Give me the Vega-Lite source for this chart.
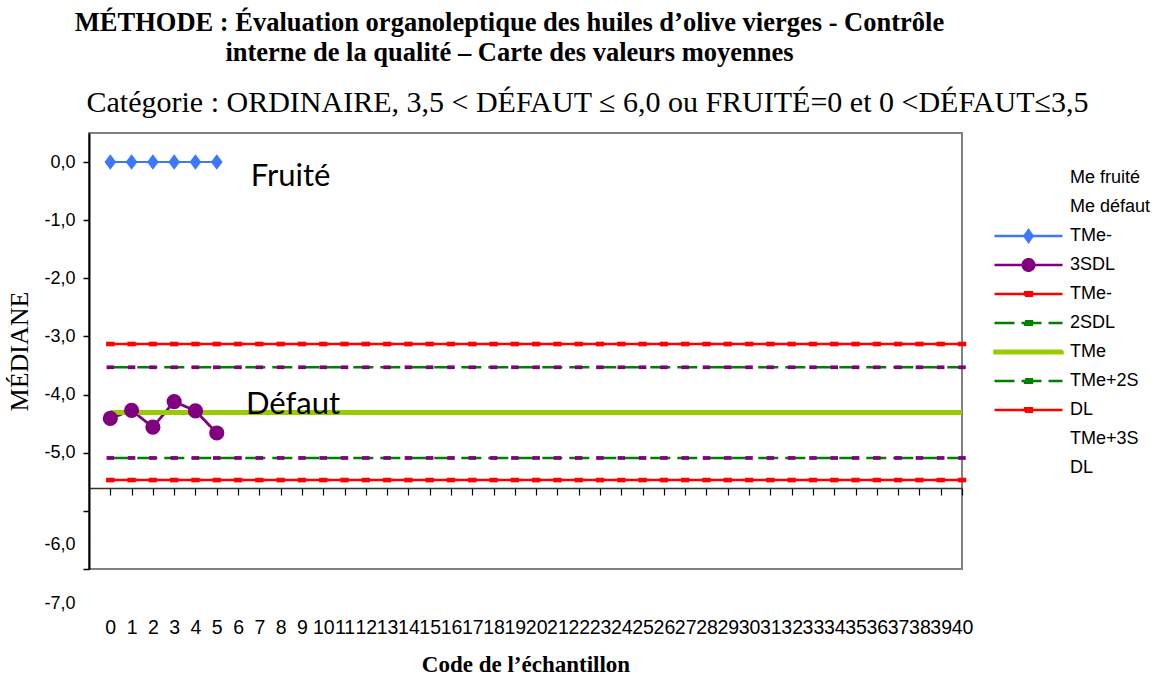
{
  "$schema": "https://vega.github.io/schema/vega-lite/v6.json",
  "background": "white",
  "padding": {"left": 5, "top": 9, "right": 5, "bottom": 5},
  "title": {
    "text": ["MÉTHODE : Évaluation organoleptique des huiles d’olive vierges - Contrôle", "interne de la qualité – Carte des valeurs moyennes"],
    "font": "Liberation Serif", "fontSize": 26.5, "fontWeight": "bold", "color": "black",
    "lineHeight": 30, "anchor": "middle", "offset": 21, "dx": -69
  },
  "datasets": {
    "series": [
      {"code":0,"serie":"Me fruité","valeur":0},{"code":1,"serie":"Me fruité","valeur":0},{"code":2,"serie":"Me fruité","valeur":0},{"code":3,"serie":"Me fruité","valeur":0},{"code":4,"serie":"Me fruité","valeur":0},{"code":5,"serie":"Me fruité","valeur":0},
      {"code":0,"serie":"Me défaut","valeur":-4.41},{"code":1,"serie":"Me défaut","valeur":-4.27},{"code":2,"serie":"Me défaut","valeur":-4.56},{"code":3,"serie":"Me défaut","valeur":-4.12},{"code":4,"serie":"Me défaut","valeur":-4.28},{"code":5,"serie":"Me défaut","valeur":-4.66},
      {"code":0,"serie":"TMe-3SDL","valeur":-3.13},{"code":1,"serie":"TMe-3SDL","valeur":-3.13},{"code":2,"serie":"TMe-3SDL","valeur":-3.13},{"code":3,"serie":"TMe-3SDL","valeur":-3.13},{"code":4,"serie":"TMe-3SDL","valeur":-3.13},{"code":5,"serie":"TMe-3SDL","valeur":-3.13},{"code":6,"serie":"TMe-3SDL","valeur":-3.13},{"code":7,"serie":"TMe-3SDL","valeur":-3.13},{"code":8,"serie":"TMe-3SDL","valeur":-3.13},{"code":9,"serie":"TMe-3SDL","valeur":-3.13},{"code":10,"serie":"TMe-3SDL","valeur":-3.13},{"code":11,"serie":"TMe-3SDL","valeur":-3.13},{"code":12,"serie":"TMe-3SDL","valeur":-3.13},{"code":13,"serie":"TMe-3SDL","valeur":-3.13},{"code":14,"serie":"TMe-3SDL","valeur":-3.13},{"code":15,"serie":"TMe-3SDL","valeur":-3.13},{"code":16,"serie":"TMe-3SDL","valeur":-3.13},{"code":17,"serie":"TMe-3SDL","valeur":-3.13},{"code":18,"serie":"TMe-3SDL","valeur":-3.13},{"code":19,"serie":"TMe-3SDL","valeur":-3.13},{"code":20,"serie":"TMe-3SDL","valeur":-3.13},{"code":21,"serie":"TMe-3SDL","valeur":-3.13},{"code":22,"serie":"TMe-3SDL","valeur":-3.13},{"code":23,"serie":"TMe-3SDL","valeur":-3.13},{"code":24,"serie":"TMe-3SDL","valeur":-3.13},{"code":25,"serie":"TMe-3SDL","valeur":-3.13},{"code":26,"serie":"TMe-3SDL","valeur":-3.13},{"code":27,"serie":"TMe-3SDL","valeur":-3.13},{"code":28,"serie":"TMe-3SDL","valeur":-3.13},{"code":29,"serie":"TMe-3SDL","valeur":-3.13},{"code":30,"serie":"TMe-3SDL","valeur":-3.13},{"code":31,"serie":"TMe-3SDL","valeur":-3.13},{"code":32,"serie":"TMe-3SDL","valeur":-3.13},{"code":33,"serie":"TMe-3SDL","valeur":-3.13},{"code":34,"serie":"TMe-3SDL","valeur":-3.13},{"code":35,"serie":"TMe-3SDL","valeur":-3.13},{"code":36,"serie":"TMe-3SDL","valeur":-3.13},{"code":37,"serie":"TMe-3SDL","valeur":-3.13},{"code":38,"serie":"TMe-3SDL","valeur":-3.13},{"code":39,"serie":"TMe-3SDL","valeur":-3.13},{"code":40,"serie":"TMe-3SDL","valeur":-3.13},
      {"code":0,"serie":"TMe-2SDL","valeur":-3.53},{"code":1,"serie":"TMe-2SDL","valeur":-3.53},{"code":2,"serie":"TMe-2SDL","valeur":-3.53},{"code":3,"serie":"TMe-2SDL","valeur":-3.53},{"code":4,"serie":"TMe-2SDL","valeur":-3.53},{"code":5,"serie":"TMe-2SDL","valeur":-3.53},{"code":6,"serie":"TMe-2SDL","valeur":-3.53},{"code":7,"serie":"TMe-2SDL","valeur":-3.53},{"code":8,"serie":"TMe-2SDL","valeur":-3.53},{"code":9,"serie":"TMe-2SDL","valeur":-3.53},{"code":10,"serie":"TMe-2SDL","valeur":-3.53},{"code":11,"serie":"TMe-2SDL","valeur":-3.53},{"code":12,"serie":"TMe-2SDL","valeur":-3.53},{"code":13,"serie":"TMe-2SDL","valeur":-3.53},{"code":14,"serie":"TMe-2SDL","valeur":-3.53},{"code":15,"serie":"TMe-2SDL","valeur":-3.53},{"code":16,"serie":"TMe-2SDL","valeur":-3.53},{"code":17,"serie":"TMe-2SDL","valeur":-3.53},{"code":18,"serie":"TMe-2SDL","valeur":-3.53},{"code":19,"serie":"TMe-2SDL","valeur":-3.53},{"code":20,"serie":"TMe-2SDL","valeur":-3.53},{"code":21,"serie":"TMe-2SDL","valeur":-3.53},{"code":22,"serie":"TMe-2SDL","valeur":-3.53},{"code":23,"serie":"TMe-2SDL","valeur":-3.53},{"code":24,"serie":"TMe-2SDL","valeur":-3.53},{"code":25,"serie":"TMe-2SDL","valeur":-3.53},{"code":26,"serie":"TMe-2SDL","valeur":-3.53},{"code":27,"serie":"TMe-2SDL","valeur":-3.53},{"code":28,"serie":"TMe-2SDL","valeur":-3.53},{"code":29,"serie":"TMe-2SDL","valeur":-3.53},{"code":30,"serie":"TMe-2SDL","valeur":-3.53},{"code":31,"serie":"TMe-2SDL","valeur":-3.53},{"code":32,"serie":"TMe-2SDL","valeur":-3.53},{"code":33,"serie":"TMe-2SDL","valeur":-3.53},{"code":34,"serie":"TMe-2SDL","valeur":-3.53},{"code":35,"serie":"TMe-2SDL","valeur":-3.53},{"code":36,"serie":"TMe-2SDL","valeur":-3.53},{"code":37,"serie":"TMe-2SDL","valeur":-3.53},{"code":38,"serie":"TMe-2SDL","valeur":-3.53},{"code":39,"serie":"TMe-2SDL","valeur":-3.53},{"code":40,"serie":"TMe-2SDL","valeur":-3.53},
      {"code":0,"serie":"TMe","valeur":-4.31},{"code":1,"serie":"TMe","valeur":-4.31},{"code":2,"serie":"TMe","valeur":-4.31},{"code":3,"serie":"TMe","valeur":-4.31},{"code":4,"serie":"TMe","valeur":-4.31},{"code":5,"serie":"TMe","valeur":-4.31},{"code":6,"serie":"TMe","valeur":-4.31},{"code":7,"serie":"TMe","valeur":-4.31},{"code":8,"serie":"TMe","valeur":-4.31},{"code":9,"serie":"TMe","valeur":-4.31},{"code":10,"serie":"TMe","valeur":-4.31},{"code":11,"serie":"TMe","valeur":-4.31},{"code":12,"serie":"TMe","valeur":-4.31},{"code":13,"serie":"TMe","valeur":-4.31},{"code":14,"serie":"TMe","valeur":-4.31},{"code":15,"serie":"TMe","valeur":-4.31},{"code":16,"serie":"TMe","valeur":-4.31},{"code":17,"serie":"TMe","valeur":-4.31},{"code":18,"serie":"TMe","valeur":-4.31},{"code":19,"serie":"TMe","valeur":-4.31},{"code":20,"serie":"TMe","valeur":-4.31},{"code":21,"serie":"TMe","valeur":-4.31},{"code":22,"serie":"TMe","valeur":-4.31},{"code":23,"serie":"TMe","valeur":-4.31},{"code":24,"serie":"TMe","valeur":-4.31},{"code":25,"serie":"TMe","valeur":-4.31},{"code":26,"serie":"TMe","valeur":-4.31},{"code":27,"serie":"TMe","valeur":-4.31},{"code":28,"serie":"TMe","valeur":-4.31},{"code":29,"serie":"TMe","valeur":-4.31},{"code":30,"serie":"TMe","valeur":-4.31},{"code":31,"serie":"TMe","valeur":-4.31},{"code":32,"serie":"TMe","valeur":-4.31},{"code":33,"serie":"TMe","valeur":-4.31},{"code":34,"serie":"TMe","valeur":-4.31},{"code":35,"serie":"TMe","valeur":-4.31},{"code":36,"serie":"TMe","valeur":-4.31},{"code":37,"serie":"TMe","valeur":-4.31},{"code":38,"serie":"TMe","valeur":-4.31},{"code":39,"serie":"TMe","valeur":-4.31},{"code":40,"serie":"TMe","valeur":-4.31},
      {"code":0,"serie":"TMe+2SDL","valeur":-5.09},{"code":1,"serie":"TMe+2SDL","valeur":-5.09},{"code":2,"serie":"TMe+2SDL","valeur":-5.09},{"code":3,"serie":"TMe+2SDL","valeur":-5.09},{"code":4,"serie":"TMe+2SDL","valeur":-5.09},{"code":5,"serie":"TMe+2SDL","valeur":-5.09},{"code":6,"serie":"TMe+2SDL","valeur":-5.09},{"code":7,"serie":"TMe+2SDL","valeur":-5.09},{"code":8,"serie":"TMe+2SDL","valeur":-5.09},{"code":9,"serie":"TMe+2SDL","valeur":-5.09},{"code":10,"serie":"TMe+2SDL","valeur":-5.09},{"code":11,"serie":"TMe+2SDL","valeur":-5.09},{"code":12,"serie":"TMe+2SDL","valeur":-5.09},{"code":13,"serie":"TMe+2SDL","valeur":-5.09},{"code":14,"serie":"TMe+2SDL","valeur":-5.09},{"code":15,"serie":"TMe+2SDL","valeur":-5.09},{"code":16,"serie":"TMe+2SDL","valeur":-5.09},{"code":17,"serie":"TMe+2SDL","valeur":-5.09},{"code":18,"serie":"TMe+2SDL","valeur":-5.09},{"code":19,"serie":"TMe+2SDL","valeur":-5.09},{"code":20,"serie":"TMe+2SDL","valeur":-5.09},{"code":21,"serie":"TMe+2SDL","valeur":-5.09},{"code":22,"serie":"TMe+2SDL","valeur":-5.09},{"code":23,"serie":"TMe+2SDL","valeur":-5.09},{"code":24,"serie":"TMe+2SDL","valeur":-5.09},{"code":25,"serie":"TMe+2SDL","valeur":-5.09},{"code":26,"serie":"TMe+2SDL","valeur":-5.09},{"code":27,"serie":"TMe+2SDL","valeur":-5.09},{"code":28,"serie":"TMe+2SDL","valeur":-5.09},{"code":29,"serie":"TMe+2SDL","valeur":-5.09},{"code":30,"serie":"TMe+2SDL","valeur":-5.09},{"code":31,"serie":"TMe+2SDL","valeur":-5.09},{"code":32,"serie":"TMe+2SDL","valeur":-5.09},{"code":33,"serie":"TMe+2SDL","valeur":-5.09},{"code":34,"serie":"TMe+2SDL","valeur":-5.09},{"code":35,"serie":"TMe+2SDL","valeur":-5.09},{"code":36,"serie":"TMe+2SDL","valeur":-5.09},{"code":37,"serie":"TMe+2SDL","valeur":-5.09},{"code":38,"serie":"TMe+2SDL","valeur":-5.09},{"code":39,"serie":"TMe+2SDL","valeur":-5.09},{"code":40,"serie":"TMe+2SDL","valeur":-5.09},
      {"code":0,"serie":"TMe+3SDL","valeur":-5.47},{"code":1,"serie":"TMe+3SDL","valeur":-5.47},{"code":2,"serie":"TMe+3SDL","valeur":-5.47},{"code":3,"serie":"TMe+3SDL","valeur":-5.47},{"code":4,"serie":"TMe+3SDL","valeur":-5.47},{"code":5,"serie":"TMe+3SDL","valeur":-5.47},{"code":6,"serie":"TMe+3SDL","valeur":-5.47},{"code":7,"serie":"TMe+3SDL","valeur":-5.47},{"code":8,"serie":"TMe+3SDL","valeur":-5.47},{"code":9,"serie":"TMe+3SDL","valeur":-5.47},{"code":10,"serie":"TMe+3SDL","valeur":-5.47},{"code":11,"serie":"TMe+3SDL","valeur":-5.47},{"code":12,"serie":"TMe+3SDL","valeur":-5.47},{"code":13,"serie":"TMe+3SDL","valeur":-5.47},{"code":14,"serie":"TMe+3SDL","valeur":-5.47},{"code":15,"serie":"TMe+3SDL","valeur":-5.47},{"code":16,"serie":"TMe+3SDL","valeur":-5.47},{"code":17,"serie":"TMe+3SDL","valeur":-5.47},{"code":18,"serie":"TMe+3SDL","valeur":-5.47},{"code":19,"serie":"TMe+3SDL","valeur":-5.47},{"code":20,"serie":"TMe+3SDL","valeur":-5.47},{"code":21,"serie":"TMe+3SDL","valeur":-5.47},{"code":22,"serie":"TMe+3SDL","valeur":-5.47},{"code":23,"serie":"TMe+3SDL","valeur":-5.47},{"code":24,"serie":"TMe+3SDL","valeur":-5.47},{"code":25,"serie":"TMe+3SDL","valeur":-5.47},{"code":26,"serie":"TMe+3SDL","valeur":-5.47},{"code":27,"serie":"TMe+3SDL","valeur":-5.47},{"code":28,"serie":"TMe+3SDL","valeur":-5.47},{"code":29,"serie":"TMe+3SDL","valeur":-5.47},{"code":30,"serie":"TMe+3SDL","valeur":-5.47},{"code":31,"serie":"TMe+3SDL","valeur":-5.47},{"code":32,"serie":"TMe+3SDL","valeur":-5.47},{"code":33,"serie":"TMe+3SDL","valeur":-5.47},{"code":34,"serie":"TMe+3SDL","valeur":-5.47},{"code":35,"serie":"TMe+3SDL","valeur":-5.47},{"code":36,"serie":"TMe+3SDL","valeur":-5.47},{"code":37,"serie":"TMe+3SDL","valeur":-5.47},{"code":38,"serie":"TMe+3SDL","valeur":-5.47},{"code":39,"serie":"TMe+3SDL","valeur":-5.47},{"code":40,"serie":"TMe+3SDL","valeur":-5.47}
    ],
    "annotations": [
      {"code":6.6,"valeur":-0.26,"texte":"Fruité"},
      {"code":6.37,"valeur":-4.18,"texte":"Défaut"}
    ]
  },
  "vconcat": [
    {
      "width": 873,
      "height": 436,
      "title": {
        "text": "Catégorie : ORDINAIRE, 3,5 < DÉFAUT ≤ 6,0 ou FRUITÉ=0 et 0 <DÉFAUT≤3,5",
        "font": "Liberation Serif", "fontSize": 30, "fontWeight": "normal", "color": "black",
        "anchor": "middle", "frame": "group", "dx": 62, "offset": 15
      },
      "encoding": {
        "x": {
          "field": "code", "type": "quantitative",
          "scale": {"domain": [-1, 40], "nice": false, "zero": false},
          "axis": {
            "values": [0,1,2,3,4,5,6,7,8,9,10,11,12,13,14,15,16,17,18,19,20,21,22,23,24,25,26,27,28,29,30,31,32,33,34,35,36,37,38,39,40],
            "format": "d", "offset": -81, "grid": false,
            "domainColor": "#333333", "domainWidth": 1.5,
            "tickColor": "black", "tickWidth": 1.2, "tickSize": 7,
            "labelPadding": 123, "labelFont": "Liberation Sans", "labelFontSize": 19.5, "labelColor": "black",
            "labelOverlap": false, "labelFlush": false, "labelBound": false,
            "title": "Code de l’échantillon", "titleFont": "Liberation Serif", "titleFontSize": 23,
            "titleFontWeight": "bold", "titleColor": "black", "titlePadding": 17
          }
        },
        "y": {
          "field": "valeur", "type": "quantitative",
          "scale": {"domain": [-7, 0.5], "nice": false, "zero": false},
          "axis": {
            "values": [0,-1,-2,-3,-4,-5,-6,-7],
            "labelExpr": "replace(replace(format(datum.value, '.1f'), '.', ','), '\u2212', '-')",
            "labelOffset": {"condition": {"test": "datum.value < -5.5", "value": 34}, "value": 0},
            "grid": false, "domainColor": "black", "domainWidth": 2,
            "tickColor": "black", "tickWidth": 1.5, "tickSize": 6,
            "labelPadding": 8, "labelFont": "Liberation Sans", "labelFontSize": 18, "labelColor": "black",
            "labelOverlap": false, "labelFlush": false,
            "title": "MÉDIANE", "titleFont": "Liberation Serif", "titleFontSize": 26,
            "titleFontWeight": "normal", "titleColor": "black", "titlePadding": 11
          }
        }
      },
      "layer": [
        {
          "data": {"name": "series"},
          "mark": {"type": "line"},
          "encoding": {
            "stroke": {
              "field": "serie", "type": "nominal",
              "scale": {
                "domain": ["_1","_2","Me fruité","Me défaut","TMe-3SDL","TMe-2SDL","TMe","TMe+2SDL","TMe+3SDL","_10","_11"],
                "range": ["transparent","transparent","#3d77ff","#800080","#ff0000","#008000","#99cc00","#008000","#ff0000","transparent","transparent"]
              }
            },
            "strokeDash": {
              "field": "serie", "type": "nominal",
              "scale": {
                "domain": ["_1","_2","Me fruité","Me défaut","TMe-3SDL","TMe-2SDL","TMe","TMe+2SDL","TMe+3SDL","_10","_11"],
                "range": [[1,0],[1,0],[1,0],[1,0],[1,0],[20,7],[1,0],[20,7],[1,0],[1,0],[1,0]]
              }
            },
            "strokeWidth": {
              "condition": [
                {"test": "datum.serie === 'TMe'", "value": 5},
                {"test": "datum.serie === 'Me fruité'", "value": 2},
                {"test": "datum.serie === 'Me défaut'", "value": 2.8}
              ],
              "value": 2.5
            }
          }
        },
        {
          "data": {"name": "series"},
          "mark": {"type": "point", "filled": true, "opacity": 0},
          "encoding": {
            "stroke": {
              "field": "serie", "type": "nominal",
              "legend": {
                "orient": "none", "legendX": 904, "legendY": 35, "direction": "vertical", "columns": 1,
                "title": null, "symbolSize": 4624, "clipHeight": 20, "rowPadding": 9, "labelOffset": 6,
                "symbolOpacity": 1, "symbolStrokeWidth": 2.5,
                "labelFont": "Liberation Sans", "labelFontSize": 18, "labelColor": "black", "labelLimit": 300,
                "labelExpr": "['Me fruité','Me défaut','TMe-','3SDL','TMe-','2SDL','TMe','TMe+2S','DL','TMe+3S','DL'][indexof(['_1','_2','Me fruité','Me défaut','TMe-3SDL','TMe-2SDL','TMe','TMe+2SDL','TMe+3SDL','_10','_11'], datum.value)]"
              }
            },
            "strokeDash": {"field": "serie", "type": "nominal"},
            "fill": {
              "field": "serie", "type": "nominal",
              "scale": {
                "domain": ["_1","_2","Me fruité","Me défaut","TMe-3SDL","TMe-2SDL","TMe","TMe+2SDL","TMe+3SDL","_10","_11"],
                "range": ["transparent","transparent","#3d77ff","#800080","#ff0000","#800080","#99cc00","#800080","#ff0000","transparent","transparent"]
              }
            },
            "shape": {
              "field": "serie", "type": "nominal",
              "scale": {
                "domain": ["_1","_2","Me fruité","Me défaut","TMe-3SDL","TMe-2SDL","TMe","TMe+2SDL","TMe+3SDL","_10","_11"],
                "range": ["M0,0","M0,0","M-1,0H1M0,-0.17L0.12,0L0,0.17L-0.12,0Z","M-1,0H1M0.17,0A0.17,0.17,0,1,1,-0.17,0A0.17,0.17,0,1,1,0.17,0Z","M-1,0H1M-0.1,-0.05H0.1V0.05H-0.1Z","M-1,0H1M-0.1,-0.05H0.1V0.05H-0.1Z","M-1,-0.04H1V0.04H-1Z","M-1,0H1M-0.1,-0.05H0.1V0.05H-0.1Z","M-1,0H1M-0.1,-0.05H0.1V0.05H-0.1Z","M0,0","M0,0"]
              }
            }
          }
        },
        {
          "data": {"name": "series"},
          "transform": [{"filter": "datum.serie === 'Me fruité'"}],
          "mark": {"type": "point", "shape": "M0,-1L0.75,0L0,1L-0.75,0Z", "filled": true, "color": "#3d77ff", "size": 240, "opacity": 1}
        },
        {
          "data": {"name": "series"},
          "transform": [{"filter": "datum.serie === 'Me défaut'"}],
          "mark": {"type": "point", "shape": "circle", "filled": true, "color": "#800080", "size": 230, "opacity": 1}
        },
        {
          "data": {"name": "series"},
          "transform": [{"filter": "datum.serie === 'TMe-3SDL' || datum.serie === 'TMe+3SDL'"}],
          "mark": {"type": "point", "shape": "M-1,-0.55H1V0.55H-1Z", "filled": true, "color": "#ff0000", "size": 70, "opacity": 1}
        },
        {
          "data": {"name": "series"},
          "transform": [{"filter": "datum.serie === 'TMe-2SDL' || datum.serie === 'TMe+2SDL'"}],
          "mark": {"type": "point", "shape": "M-1,-0.5H1V0.5H-1Z", "filled": true, "color": "#800080", "size": 56, "opacity": 1}
        },
        {
          "data": {"name": "annotations"},
          "mark": {"type": "text", "font": "Lato", "fontSize": 31, "align": "left", "baseline": "middle", "color": "black"},
          "encoding": {"text": {"field": "texte", "type": "nominal"}}
        }
      ]
    }
  ],
  "config": {
    "view": {"stroke": "#808080", "strokeWidth": 2},
    "concat": {"spacing": 0}
  }
}
